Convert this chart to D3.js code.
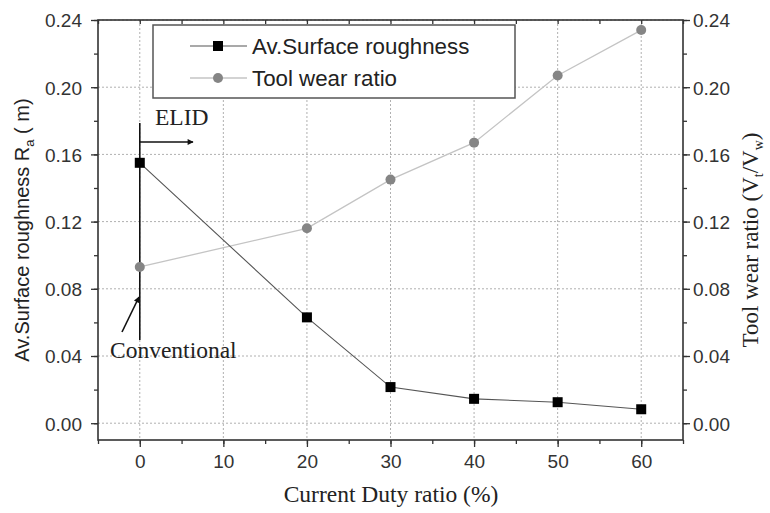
<!DOCTYPE html>
<html><head><meta charset="utf-8">
<script src="https://cdn.jsdelivr.net/npm/d3@7"></script>
<style>body{margin:0;background:#fff}svg{display:block}</style>
</head><body>
<svg id="c" width="770" height="513"></svg>
<script>
const dutyRatio = [0, 20, 30, 40, 50, 60];
const roughness = [0.155, 0.063, 0.0215, 0.0145, 0.0125, 0.0083];
const toolWear  = [0.093, 0.116, 0.145, 0.167, 0.207, 0.234];
const xTicks = [0, 10, 20, 30, 40, 50, 60];
const yTicks = [0.00, 0.04, 0.08, 0.12, 0.16, 0.20, 0.24];
const seriesNames = ["Av.Surface roughness", "Tool wear ratio"];

const svg = d3.select("#c");
const L = 98, R = 683, T = 20, B = 440;
const x = d3.scaleLinear().domain([-5, 65]).range([L, R]);
const y = d3.scaleLinear().domain([-0.01, 0.24]).range([B, T]);
const y2 = d3.scaleLinear().domain([-0.01, 0.24]).range([B, T]);
const sans = "'Liberation Sans', Arial, sans-serif";
const serif = "'Liberation Serif', 'Times New Roman', serif";

// grid
const g = svg.append("g");
g.selectAll("line.vx").data(xTicks).join("line")
  .attr("x1", d => x(d)).attr("x2", d => x(d)).attr("y1", T).attr("y2", B)
  .attr("stroke", "#b0b0b0").attr("stroke-width", 1).attr("stroke-dasharray", "2,2");
g.selectAll("line.hy").data(yTicks).join("line")
  .attr("y1", d => y(d)).attr("y2", d => y(d)).attr("x1", L).attr("x2", R)
  .attr("stroke", "#b0b0b0").attr("stroke-width", 1).attr("stroke-dasharray", "2,2");

// axes
const minorX = d3.range(-5, 66, 5);
const minorY = d3.range(-0.0, 0.241, 0.02);
const axB = d3.axisBottom(x).tickValues(xTicks).tickSize(7).tickFormat(d3.format("d"));
const axBm = d3.axisBottom(x).tickValues(minorX).tickSize(4).tickFormat("");
const axL = d3.axisLeft(y).tickValues(yTicks).tickSize(7).tickFormat(d3.format(".2f"));
const axLm = d3.axisLeft(y).tickValues(minorY).tickSize(4).tickFormat("");
const axR = d3.axisRight(y2).tickValues(yTicks).tickSize(7).tickFormat(d3.format(".2f"));
const axRm = d3.axisRight(y2).tickValues(minorY).tickSize(4).tickFormat("");
const axT = d3.axisBottom(x).tickValues(minorX).tickSize(4).tickFormat("");

function style(sel){
  sel.select(".domain").remove();
  sel.selectAll("line").attr("stroke", "#333").attr("stroke-width", 1.3);
  sel.selectAll("text").attr("font-family", sans).attr("font-size", 19).attr("fill", "#333");
}
svg.append("g").attr("transform", `translate(0,${B})`).call(axB).call(style)
  .selectAll("text").attr("dy", "0").attr("y", 28);
svg.append("g").attr("transform", `translate(0,${B})`).call(axBm).call(style);
svg.append("g").attr("transform", `translate(0,${T})`).call(axT).call(style);
svg.append("g").attr("transform", `translate(${L},0)`).call(axL).call(style)
  .selectAll("text").attr("x", -16).attr("dy", "0.36em");
svg.append("g").attr("transform", `translate(${L},0)`).call(axLm).call(style);
svg.append("g").attr("transform", `translate(${R},0)`).call(axR).call(style)
  .selectAll("text").attr("x", 10).attr("dy", "0.36em");
svg.append("g").attr("transform", `translate(${R},0)`).call(axRm).call(style);

// frame
svg.append("rect").attr("x", L).attr("y", T).attr("width", R - L).attr("height", B - T)
  .attr("fill", "none").attr("stroke", "#333").attr("stroke-width", 1.6);

// series
const d1 = dutyRatio.map((d, i) => [d, roughness[i]]);
const d2 = dutyRatio.map((d, i) => [d, toolWear[i]]);
const line1 = d3.line().x(d => x(d[0])).y(d => y(d[1]));
const line2 = d3.line().x(d => x(d[0])).y(d => y2(d[1]));
svg.append("path").attr("d", line2(d2)).attr("fill", "none").attr("stroke", "#c4c4c4").attr("stroke-width", 1.3);
svg.append("path").attr("d", line1(d1)).attr("fill", "none").attr("stroke", "#555").attr("stroke-width", 1.1);

// annotation vertical line
svg.append("line").attr("x1", x(0)).attr("x2", x(0)).attr("y1", 123).attr("y2", 340)
  .attr("stroke", "#111").attr("stroke-width", 1.6);

svg.selectAll("circle.tw").data(d2).join("circle")
  .attr("cx", d => x(d[0])).attr("cy", d => y2(d[1])).attr("r", 5).attr("fill", "#858585");
svg.selectAll("rect.ro").data(d1).join("rect")
  .attr("x", d => x(d[0]) - 5).attr("y", d => y(d[1]) - 5).attr("width", 10).attr("height", 10).attr("fill", "#000");

// arrows
const defs = svg.append("defs");
defs.append("marker").attr("id", "ah").attr("viewBox", "0 0 10 10").attr("refX", 9).attr("refY", 5)
  .attr("markerWidth", 9).attr("markerHeight", 6).attr("markerUnits", "userSpaceOnUse").attr("orient", "auto")
  .append("path").attr("d", "M0,0L10,5L0,10Z").attr("fill", "#111");
svg.append("line").attr("x1", x(0)).attr("x2", 193).attr("y1", 142).attr("y2", 142)
  .attr("stroke", "#111").attr("stroke-width", 1.3).attr("marker-end", "url(#ah)");
svg.append("line").attr("x1", 122).attr("x2", 139).attr("y1", 332).attr("y2", 297)
  .attr("stroke", "#111").attr("stroke-width", 1.6).attr("marker-end", "url(#ah)");
svg.append("text").attr("x", 155).attr("y", 125).text("ELID")
  .attr("font-family", serif).attr("font-size", 23.5).attr("fill", "#222");
svg.append("text").attr("x", 110).attr("y", 358).text("Conventional")
  .attr("font-family", serif).attr("font-size", 23.5).attr("fill", "#222");

// legend
const lg = svg.append("g");
lg.append("rect").attr("x", 153).attr("y", 25).attr("width", 362).attr("height", 73)
  .attr("fill", "#fff").attr("stroke", "#555").attr("stroke-width", 1.5);
const rows = [46, 78];
lg.append("line").attr("x1", 190).attr("x2", 247).attr("y1", rows[0]).attr("y2", rows[0]).attr("stroke", "#555").attr("stroke-width", 1.1);
lg.append("rect").attr("x", 213).attr("y", rows[0] - 5).attr("width", 10).attr("height", 10).attr("fill", "#000");
lg.append("line").attr("x1", 190).attr("x2", 247).attr("y1", rows[1]).attr("y2", rows[1]).attr("stroke", "#c4c4c4").attr("stroke-width", 1.3);
lg.append("circle").attr("cx", 218).attr("cy", rows[1]).attr("r", 5).attr("fill", "#858585");
lg.selectAll("text").data(seriesNames).join("text")
  .attr("x", 252).attr("y", (d, i) => rows[i]).attr("dy", "0.36em").text(d => d)
  .attr("font-family", sans).attr("font-size", 22.3).attr("fill", "#222");

// axis titles
svg.append("text").attr("x", 391).attr("y", 502).attr("text-anchor", "middle")
  .attr("font-family", serif).attr("font-size", 23.5).attr("fill", "#222").text("Current Duty ratio (%)");

const lt = svg.append("text").attr("transform", "translate(29,230) rotate(-90)").attr("text-anchor", "middle")
  .attr("font-family", sans).attr("font-size", 20).attr("fill", "#222");
lt.append("tspan").text("Av.Surface roughness R");
lt.append("tspan").attr("font-size", 13).attr("dy", 5).text("a");
lt.append("tspan").attr("dy", -5).text(" ( m)");

const rt = svg.append("text").attr("transform", "translate(758,240) rotate(-90)").attr("text-anchor", "middle")
  .attr("font-family", serif).attr("font-size", 23).attr("fill", "#222");
rt.append("tspan").text("Tool wear ratio (V");
rt.append("tspan").attr("font-size", 14).attr("dy", 5).text("t");
rt.append("tspan").attr("dy", -5).text("/V");
rt.append("tspan").attr("font-size", 14).attr("dy", 5).text("w");
rt.append("tspan").attr("dy", -5).text(")");
</script>
</body></html>
